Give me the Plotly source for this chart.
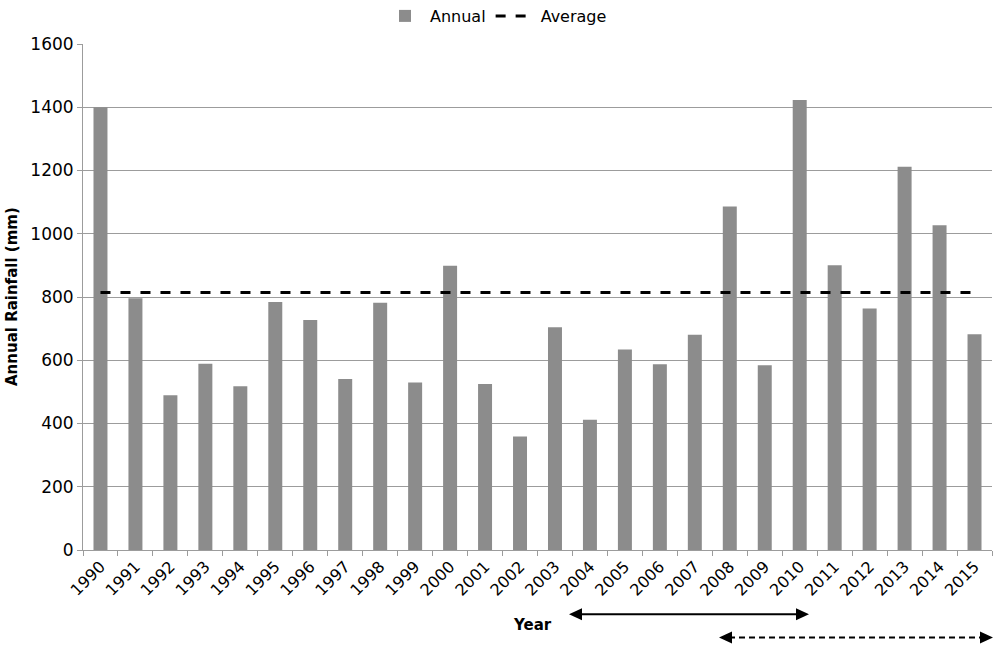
import plotly.graph_objects as go

years = [str(y) for y in range(1990, 2016)]
annual = [1400, 796, 489, 589, 518, 784, 727, 541, 782, 530, 899, 525, 359,
          704, 412, 634, 587, 681, 1086, 584, 1423, 900, 764, 1212, 1027, 682]
average_value = 814
average = [average_value] * len(years)

FONT = "DejaVu Sans"
GRID = "#9c9c9c"

fig = go.Figure()
fig.add_trace(go.Bar(x=years, y=annual, name="Annual",
                     marker=dict(color="#8c8c8c", line=dict(width=0))))
fig.add_trace(go.Scatter(x=years, y=average, name="Average", mode="lines",
                         line=dict(color="black", width=3, dash="10px,10px")))

# plot area in pixels: x 83..992, y 44..550
L, R, T, B = 83, 992, 44, 550
def px(x):
    return (x - L) / (R - L)
def py(y):
    return (B - y) / (B - T)

shapes = []
def arrow(x0, x1, y, dash):
    shapes.append(dict(type="line", xref="paper", yref="paper",
                       x0=px(x0 + 10), x1=px(x1 - 10), y0=py(y), y1=py(y),
                       line=dict(color="black", width=2, dash=dash)))
    shapes.append(dict(type="path", xref="paper", yref="paper",
                       xsizemode="pixel", ysizemode="pixel",
                       xanchor=px(x0), yanchor=py(y),
                       path="M0,0 L13,6 L13,-6 Z",
                       fillcolor="black", line=dict(color="black", width=0)))
    shapes.append(dict(type="path", xref="paper", yref="paper",
                       xsizemode="pixel", ysizemode="pixel",
                       xanchor=px(x1), yanchor=py(y),
                       path="M0,0 L-13,6 L-13,-6 Z",
                       fillcolor="black", line=dict(color="black", width=0)))

arrow(569, 809, 614.3, "solid")
arrow(719, 993, 637.5, "6px,4px")

annotations = [
    dict(text="<b>Year</b>", xref="paper", yref="paper", x=px(554), y=py(625),
         xanchor="right", yanchor="middle", showarrow=False,
         font=dict(family=FONT, size=15, color="black")),
    dict(text="<b>Annual Rainfall (mm)</b>", xref="paper", yref="paper",
         x=px(12), y=py(297), xanchor="center", yanchor="middle",
         textangle=-90, showarrow=False,
         font=dict(family=FONT, size=15, color="black")),
]

fig.update_layout(
    width=996, height=646,
    margin=dict(l=L, r=996 - R, t=T, b=646 - B, autoexpand=False),
    paper_bgcolor="white", plot_bgcolor="white",
    font=dict(family=FONT, size=16, color="black"),
    bargap=0.6,
    showlegend=True,
    legend=dict(orientation="h", x=px(496), xanchor="center",
                y=py(-1), yanchor="top", font=dict(size=16),
                itemwidth=40, bgcolor="rgba(0,0,0,0)"),
    shapes=shapes,
    annotations=annotations,
)
fig.update_xaxes(type="category", tickson="boundaries", ticks="outside",
                 ticklen=5, tickcolor=GRID, showline=True, linecolor=GRID,
                 linewidth=1, tickangle=-45, showgrid=False,
                 tickfont=dict(size=16), range=[-0.5, 25.5], automargin=False)
fig.update_yaxes(range=[0, 1600], dtick=200, showgrid=True, gridcolor=GRID,
                 gridwidth=1, ticks="outside", ticklen=5, tickcolor=GRID,
                 showline=True, linecolor=GRID, linewidth=1, zeroline=False,
                 tickfont=dict(size=17), automargin=False)

fig.write_html("out.html",
               config={"displayModeBar": False},
               post_script="document.body.style.margin='0';"
                           "document.body.style.overflow='hidden';")
